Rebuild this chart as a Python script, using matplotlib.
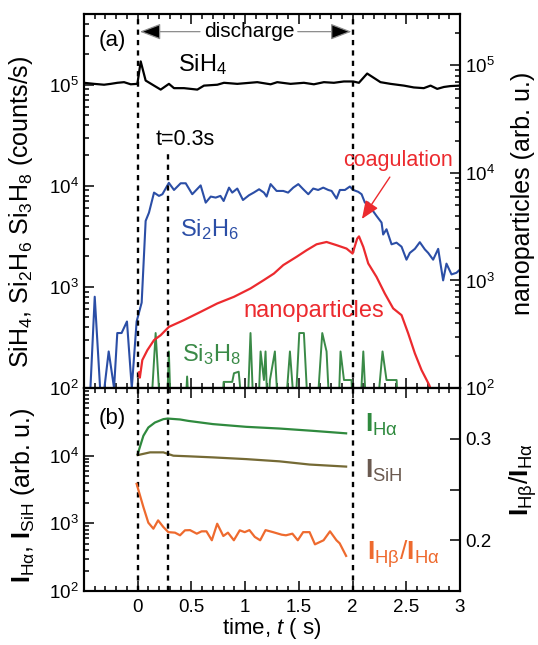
import numpy as np
import matplotlib.pyplot as plt
from matplotlib.ticker import LogLocator, MultipleLocator, FuncFormatter, NullFormatter, FixedLocator

plt.rcParams['font.family'] = ['Liberation Sans', 'DejaVu Sans']
plt.rcParams['mathtext.fontset'] = 'custom'
plt.rcParams['mathtext.rm'] = 'Liberation Sans'
plt.rcParams['mathtext.it'] = 'Liberation Sans:italic'
plt.rcParams['mathtext.bf'] = 'Liberation Sans:bold'

# ---- panel (a): mass spectrometer signals (counts/s) ----
t_sih4 = [-0.5, -0.406, -0.313, -0.251, -0.189, -0.127, -0.065, -0.003, 0.028, 0.074,
          0.152, 0.214, 0.291, 0.338, 0.431, 0.555, 0.617, 0.741, 0.803, 0.927,
          1.113, 1.237, 1.299, 1.423, 1.547, 1.64, 1.733, 1.826, 1.919, 2.006,
          2.059, 2.136, 2.26, 2.353, 2.478, 2.57, 2.663, 2.726, 2.788, 2.85, 2.912, 2.998]
sih4 = [1.045e5, 1.02e5, 1.0e5, 1.02e5, 1.045e5, 1.06e5, 1.01e5, 1.02e5, 1.7e5, 1.1e5,
        0.98e5, 0.895e5, 1.02e5, 0.925e5, 0.925e5, 0.895e5, 0.98e5, 1.0e5, 1.045e5, 1.02e5,
        1.06e5, 1.01e5, 1.06e5, 1.02e5, 1.045e5, 1.01e5, 1.06e5, 1.045e5, 1.077e5, 1.077e5,
        1.045e5, 1.29e5, 1.06e5, 1.02e5, 0.98e5, 0.94e5, 0.925e5, 0.98e5, 0.91e5, 0.95e5, 0.97e5, 0.98e5]

t_si2h6 = [-0.44, -0.40, -0.35, -0.31, -0.27, -0.22, -0.19, -0.15, -0.10, -0.055,
           -0.01, 0.037, 0.074, 0.105, 0.152, 0.198, 0.23, 0.29, 0.338, 0.4,
           0.447, 0.508, 0.586, 0.633, 0.68, 0.726, 0.77, 0.80, 0.85, 0.88,
           0.927, 0.98, 1.036, 1.08, 1.13, 1.175, 1.2, 1.237, 1.293, 1.355,
           1.40, 1.448, 1.495, 1.541, 1.588, 1.634, 1.68, 1.727, 1.774, 1.805,
           1.851, 1.882, 1.929, 1.975, 2.006, 2.053, 2.084, 2.115, 2.146, 2.177,
           2.223, 2.27, 2.285, 2.316, 2.363, 2.409, 2.456, 2.502, 2.533, 2.58,
           2.626, 2.673, 2.704, 2.75, 2.797, 2.843, 2.874, 2.921, 2.967, 2.998]
si2h6 = [100, 800, 100, 100, 230, 100, 350, 350, 455, 100,
         455, 700, 4500, 5430, 8570, 7950, 8260, 10700, 9100, 10600,
         10600, 8260, 10100, 6820, 7830, 7650, 7950, 7080, 9600, 8570,
         9400, 7240, 8070, 8570, 9250, 8570, 7830, 10400, 8900, 8900,
         8570, 9600, 10400, 9250, 8260, 9400, 9100, 9600, 9100, 8900,
         7480, 9100, 9100, 9840, 9100, 8720, 8260, 6820, 6820, 5900,
         5040, 4330, 3300, 3720, 2640, 2740, 2500, 1860, 2170, 2380,
         2770, 2350, 2170, 1860, 2380, 1160, 1700, 1330, 1380, 1480]

t_si3h8 = [-0.45, -0.41, -0.38, 0.12, 0.167, 0.214, 0.27, 0.29, 0.31, 0.44,
           0.46, 0.48, 0.78, 0.80, 0.88, 0.896, 0.94, 0.98, 1.02, 1.05,
           1.08, 1.12, 1.144, 1.175, 1.19, 1.21, 1.231, 1.277, 1.31, 1.37,
           1.417, 1.464, 1.504, 1.547, 1.588, 1.665, 1.718, 1.758, 1.789, 1.867,
           1.888, 1.92, 1.99, 2.006, 2.068, 2.1, 2.13, 2.223, 2.279, 2.316,
           2.41, 2.425, 3.0]
si3h8 = [100, 100, 50, 50, 350, 50, 50, 230, 50, 50,
         130, 50, 50, 115, 115, 140, 145, 50, 50, 350,
         50, 50, 230, 120, 230, 50, 120, 230, 50, 50,
         230, 50, 350, 350, 50, 50, 350, 230, 50, 50,
         230, 120, 120, 50, 50, 230, 50, 50, 230, 120,
         120, 50, 50]

# nanoparticles (right axis, arb. u.)
t_np = [0.012, 0.02, 0.043, 0.09, 0.152, 0.214, 0.29, 0.43, 0.586, 0.74,
        0.896, 1.05, 1.175, 1.268, 1.355, 1.479, 1.572, 1.665, 1.758, 1.851,
        1.944, 2.0, 2.043, 2.06, 2.1, 2.146, 2.223, 2.3, 2.378, 2.456,
        2.518, 2.58, 2.642, 2.713, 2.76]
nanop = [140, 125, 182, 225, 279, 310, 370, 428, 511, 611,
         705, 843, 1010, 1160, 1390, 1660, 1910, 2170, 2280, 2130,
         1980, 1780, 2450, 2570, 2050, 1440, 1080, 757, 550, 476,
         322, 210, 147, 107, 80]

# ---- panel (b): optical emission ----
t_ha = [0.0, 0.053, 0.099, 0.16, 0.239, 0.279, 0.394, 0.47, 0.70, 1.01, 1.32, 1.63, 1.94]
i_ha = [10600, 19700, 26100, 30900, 34700, 35400, 34300, 32700, 29300, 26700, 25200, 23300, 21400]

t_sih = [0.0, 0.115, 0.239, 0.332, 0.47, 0.70, 1.01, 1.32, 1.60, 1.94]
i_sih = [10200, 11200, 11200, 10000, 9800, 9440, 8900, 8250, 7400, 6900]

t_ratio = [-0.01, 0.053, 0.099, 0.146, 0.19, 0.239, 0.285, 0.347, 0.394, 0.44,
           0.487, 0.55, 0.595, 0.64, 0.69, 0.74, 0.797, 0.84, 0.895, 0.95,
           0.996, 1.04, 1.09, 1.14, 1.19, 1.26, 1.34, 1.38, 1.44, 1.49,
           1.54, 1.6, 1.65, 1.73, 1.79, 1.85, 1.88, 1.94]
ratio = [0.2556, 0.2327, 0.2173, 0.2114, 0.2196, 0.213, 0.208, 0.2075, 0.2049, 0.2098,
         0.21, 0.2065, 0.2088, 0.2088, 0.200, 0.2163, 0.2042, 0.2075, 0.200, 0.2098,
         0.208, 0.21, 0.2033, 0.200, 0.21, 0.208, 0.2055, 0.2049, 0.2065, 0.200,
         0.208, 0.208, 0.196, 0.200, 0.2088, 0.200, 0.197, 0.1846]

c_blue = '#2b4ea6'
c_red = '#ec2a2e'
c_green = '#3a8a47'
c_ha = '#2f8a3e'
c_sih = '#756a35'
c_sih_lab = '#6b5a50'
c_orange = '#ee6a2e'

fig = plt.figure(figsize=(5.38, 6.45), dpi=100)
ax1 = fig.add_axes([0.1561, 0.3984, 0.6989, 0.5798])
ax2 = fig.add_axes([0.1561, 0.0837, 0.6989, 0.3147])
ax1r = ax1.twinx()
ax2r = ax2.twinx()

dash = (0, (2.2, 2.2))

# panel (a)
ax1.plot(t_sih4, sih4, color='k', lw=1.6)
ax1.plot(t_si2h6, si2h6, color=c_blue, lw=1.5)
ax1.plot(t_si3h8, si3h8, color=c_green, lw=1.4)
ax1r.plot(t_np, nanop, color=c_red, lw=1.6)

ax1.set_yscale('log')
ax1r.set_yscale('log')
ax1.set_xlim(-0.5, 3)
ax1.set_ylim(1e2, 5e5)
ax1r.set_ylim(1e2, 3e5)

ax1.axvline(0, color='k', ls=dash, lw=1.7)
ax1.axvline(2.0, color='k', ls=dash, lw=1.7)
ax1.vlines(0.28, 1e2, 2.15e4, color='k', ls=dash, lw=1.7)

ax1.text(-0.24, 2.73e5, '(a)', fontsize=16, ha='center', va='center')
ax1.text(1.035, 3.35e5, 'discharge', fontsize=15, ha='center', va='center')
arr = dict(arrowstyle='-|>,head_length=1.3,head_width=0.5', fc='k', ec='0.55', lw=0.9,
           shrinkA=0, shrinkB=0)
ax1.annotate('', xy=(0.02, 3.35e5), xytext=(0.58, 3.35e5), arrowprops=arr)
ax1.annotate('', xy=(1.99, 3.35e5), xytext=(1.49, 3.35e5), arrowprops=arr)
ax1.text(0.375, 1.6e5, 'SiH$_4$', fontsize=17, ha='left', va='center')
ax1.text(0.17, 2.9e4, 't=0.3s', fontsize=15.5, ha='left', va='center')
ax1.text(0.39, 3.7e3, 'Si$_2$H$_6$', fontsize=17, ha='left', va='center', color=c_blue)
ax1.text(0.41, 2.13e2, 'Si$_3$H$_8$', fontsize=17, ha='left', va='center', color=c_green)
ax1.text(0.98, 5.8e2, 'nanoparticles', fontsize=17, ha='left', va='center', color=c_red)
ax1.text(1.91, 1.8e4, 'coagulation', fontsize=15.5, ha='left', va='center', color=c_red)
ax1.annotate('', xy=(2.087, 4.7e3), xytext=(2.347, 1.22e4),
             arrowprops=dict(arrowstyle='-|>,head_length=1.1,head_width=0.45',
                             color=c_red, lw=1.0, shrinkA=0, shrinkB=0))

ax1.set_ylabel('SiH$_4$, Si$_2$H$_6$ Si$_3$H$_8$ (counts/s)', fontsize=18)
ax1.yaxis.set_label_coords(-0.13, 0.47)
ax1r.set_ylabel('nanoparticles (arb. u.)', fontsize=18, rotation=90)
ax1r.yaxis.set_label_coords(1.135, 0.52)

# panel (b)
ax2.plot(t_ha, i_ha, color=c_ha, lw=1.6)
ax2.plot(t_sih, i_sih, color=c_sih, lw=1.6)
ax2r.plot(t_ratio, ratio, color=c_orange, lw=1.6)

ax2.set_yscale('log')
ax2.set_xlim(-0.5, 3)
ax2.set_ylim(1e2, 1e5)
ax2r.set_ylim(0.15, 0.35)

ax2.axvline(0, color='k', ls=dash, lw=1.7)
ax2.axvline(0.28, color='k', ls=dash, lw=1.7)
ax2.axvline(2.0, color='k', ls=dash, lw=1.7)

ax2.text(-0.24, 3.6e4, '(b)', fontsize=16, ha='center', va='center')
ax2.text(2.115, 2.9e4, r'$\mathbf{I}_{\mathrm{Hα}}$', fontsize=19, ha='left', va='center',
         color=c_ha)
ax2.text(2.12, 6.0e3, r'$\mathbf{I}_{\mathrm{SiH}}$', fontsize=19, ha='left', va='center',
         color=c_sih_lab)
ax2.text(2.13, 3.5e2, r'$\mathbf{I}_{\mathrm{Hβ}}/\mathbf{I}_{\mathrm{Hα}}$', fontsize=19,
         ha='left', va='center', color=c_orange)

ax2.set_ylabel(r'$\mathbf{I}_{\mathrm{Hα}}$, $\mathbf{I}_{\mathrm{SiH}}$ (arb. u.)', fontsize=18)
ax2.yaxis.set_label_coords(-0.125, 0.47)
ax2r.set_ylabel(r'$\mathbf{I}_{\mathrm{Hβ}}/\mathbf{I}_{\mathrm{Hα}}$', fontsize=19)
ax2r.yaxis.set_label_coords(1.125, 0.55)
ax2.set_xlabel('time, $t$ ( s)', fontsize=16)
ax2.xaxis.set_label_coords(0.5, -0.125)

# ticks
for ax in (ax1, ax2):
    ax.xaxis.set_major_locator(MultipleLocator(0.5))
    ax.xaxis.set_minor_locator(MultipleLocator(0.1))
    ax.tick_params(which='both', direction='in', top=True, labelsize=13.5, width=1.1)
    ax.tick_params(which='major', length=7)
    ax.tick_params(which='minor', length=3.6)
ax2.tick_params(axis='x', which='major', pad=6)
for ax in (ax1, ax2, ax1r):
    ax.yaxis.set_major_locator(LogLocator(base=10, numticks=10))
    ax.yaxis.set_minor_locator(LogLocator(base=10, subs=np.arange(2, 10), numticks=10))
    ax.yaxis.set_minor_formatter(NullFormatter())
for ax in (ax1r, ax2r):
    ax.tick_params(which='both', direction='in', labelsize=13.5, width=1.1)
    ax.tick_params(which='major', length=7)
    ax.tick_params(which='minor', length=3.6)
ax2r.yaxis.set_major_locator(FixedLocator([0.2, 0.3]))
ax2r.yaxis.set_minor_locator(FixedLocator([0.25]))
ax2r.tick_params(which='minor', length=7)
ax2r.yaxis.set_major_formatter(FuncFormatter(lambda v, p: f'{v:g}'))

ax1.tick_params(labelbottom=False)
ax2.xaxis.set_major_formatter(FuncFormatter(lambda v, p: '' if v < 0 else f'{v:g}'))
ax2.yaxis.set_major_formatter(FuncFormatter(
    lambda v, p: '' if v > 5e4 else r'$\mathdefault{10^{%d}}$' % round(np.log10(v))))

for ax in (ax1, ax2, ax1r, ax2r):
    for s in ax.spines.values():
        s.set_linewidth(1.5)

fig.savefig('out.png', dpi=100)
